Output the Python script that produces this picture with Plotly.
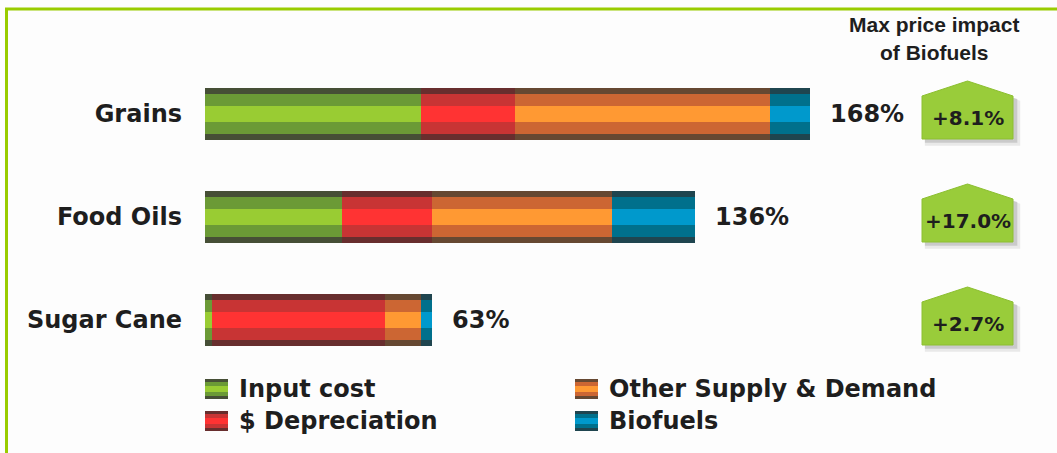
import plotly.graph_objects as go
import numpy as np

# ---- data -------------------------------------------------------------
categories = ["Grains", "Food Oils", "Sugar Cane"]
series_names = ["Input cost", "$ Depreciation", "Other Supply & Demand", "Biofuels"]
input_cost = [60, 38, 2]
depreciation = [26, 25, 48]
other_supply_demand = [71, 50, 10]
biofuels = [11, 23, 3]
totals = [168, 136, 63]
max_price_impact = ["+8.1%", "+17.0%", "+2.7%"]

series_values = [input_cost, depreciation, other_supply_demand, biofuels]

# edge / band / highlight shades for each component
palette = [
    ["#464f36", "#6b9a36", "#99cc33"],   # input cost
    ["#682e2e", "#c83434", "#ff3333"],   # $ depreciation
    ["#664832", "#cc6633", "#ff9933"],   # other supply & demand
    ["#1f454f", "#00708c", "#0099cc"],   # biofuels
]

# ---- geometry ---------------------------------------------------------
W, H = 1057, 453
LEFT = 205
PX_PER_PCT = 3.6
X_MAX = (W - LEFT) / PX_PER_PCT
ROW_PX = 103
FIRST_ROW_PX = 114
Y_TOP = -FIRST_ROW_PX / ROW_PX
Y_BOTTOM = (H - FIRST_ROW_PX) / ROW_PX

FONT = "DejaVu Sans"
INK = "#1e1e1e"


def xp(px):
    return (px - LEFT) / (W - LEFT)


def yp(py):
    return 1 - py / H


ypos = list(range(len(categories)))

fig = go.Figure()

# 3-layer bars give the rounded tube look: dark edge, mid band, bright core
layer_widths = [0.505, 0.38, 0.15]
for shade, width in enumerate(layer_widths):
    base = np.zeros(len(categories))
    for i, vals in enumerate(series_values):
        fig.add_trace(go.Bar(
            y=ypos, x=vals, base=base.copy(), orientation="h", width=width,
            marker=dict(color=palette[i][shade], line=dict(width=0)),
            name=series_names[i], showlegend=False, hoverinfo="skip",
        ))
        base += np.array(vals)

annotations = []
shapes = []

# total labels at bar ends
for i, t in enumerate(totals):
    annotations.append(dict(
        x=t, y=i, xref="x", yref="y", text=f"{t}%", showarrow=False,
        xanchor="left", yanchor="middle", xshift=18,
        font=dict(family=FONT, size=24, color=INK, weight="bold"),
    ))

# house-shaped badges with max price impact
bx = (967.5 - LEFT) / PX_PER_PCT
half = 45.5 / PX_PER_PCT
y_bottom, y_eave, y_peak = 25 / ROW_PX, -18 / ROW_PX, -33 / ROW_PX


def house(xc, yc, dx=0.0, dy=0.0, grow=0.0):
    x0, x1 = xc - half - grow + dx, xc + half + grow + dx
    yb = yc + y_bottom + dy + grow / 30
    ye = yc + y_eave + dy
    ypk = yc + y_peak + dy - grow / 30
    return (f"M {x0},{yb} L {x0},{ye} L {xc + dx},{ypk} "
            f"L {x1},{ye} L {x1},{yb} Z")


for i, label in enumerate(max_price_impact):
    for dx, dy, g, op in [(1.4, 0.045, 0.6, 0.10), (1.0, 0.03, 0.2, 0.18)]:
        shapes.append(dict(type="path", xref="x", yref="y",
                           path=house(bx, i, dx, dy, g),
                           fillcolor=f"rgba(60,60,60,{op})", line=dict(width=0)))
    shapes.append(dict(type="path", xref="x", yref="y", path=house(bx, i),
                       fillcolor="#99cc3a", line=dict(color="#8cbf30", width=1)))
    annotations.append(dict(
        x=bx, y=i + 4 / ROW_PX, xref="x", yref="y", text=label, showarrow=False,
        xanchor="center", yanchor="middle",
        font=dict(family=FONT, size=20, color=INK, weight="bold"),
    ))

# column header
header_font = dict(family="Liberation Sans Narrow, Liberation Sans", size=21,
                   color=INK, weight="bold")
for text, py in [("Max price impact", 25), ("of Biofuels", 52)]:
    annotations.append(dict(
        x=xp(934), y=yp(py), xref="paper", yref="paper",
        text=text, showarrow=False, xanchor="center", yanchor="middle",
        font=header_font,
    ))

# legend: swatches drawn as striped blocks plus labels
legend_pos = [(205, 389), (205, 421), (575, 389), (575, 421)]
for i, (lx, ly) in enumerate(legend_pos):
    sw = 23
    for shade, hh in enumerate([10, 7, 3]):
        shapes.append(dict(type="rect", xref="paper", yref="paper",
                           x0=xp(lx), x1=xp(lx + sw), y0=yp(ly + hh), y1=yp(ly - hh),
                           fillcolor=palette[i][shade], line=dict(width=0)))
    annotations.append(dict(
        x=xp(lx + 32), y=yp(ly), xref="paper", yref="paper",
        text=series_names[i], showarrow=False, xanchor="left", yanchor="middle",
        font=dict(family=FONT, size=24, color=INK, weight="bold"),
    ))

# frame lines along the top and left
shapes.append(dict(type="path", xref="paper", yref="paper",
                   path=f"M {xp(6.5)},{yp(H + 2)} L {xp(6.5)},{yp(9)} L {xp(W + 2)},{yp(9)}",
                   line=dict(color="#99cc00", width=3)))

fig.update_layout(
    width=W, height=H,
    margin=dict(l=LEFT, r=0, t=0, b=0),
    paper_bgcolor="#fdfdfd", plot_bgcolor="#fdfdfd",
    barmode="overlay", bargap=0,
    showlegend=False,
    xaxis=dict(range=[0, X_MAX], visible=False, fixedrange=True),
    yaxis=dict(range=[Y_BOTTOM, Y_TOP], tickvals=ypos, ticktext=categories,
               showgrid=False, zeroline=False, showline=False, ticks="",
               ticklabelstandoff=22, fixedrange=True,
               tickfont=dict(family=FONT, size=24, color=INK, weight="bold")),
    annotations=annotations,
    shapes=shapes,
)

fig.write_html("out.html")
